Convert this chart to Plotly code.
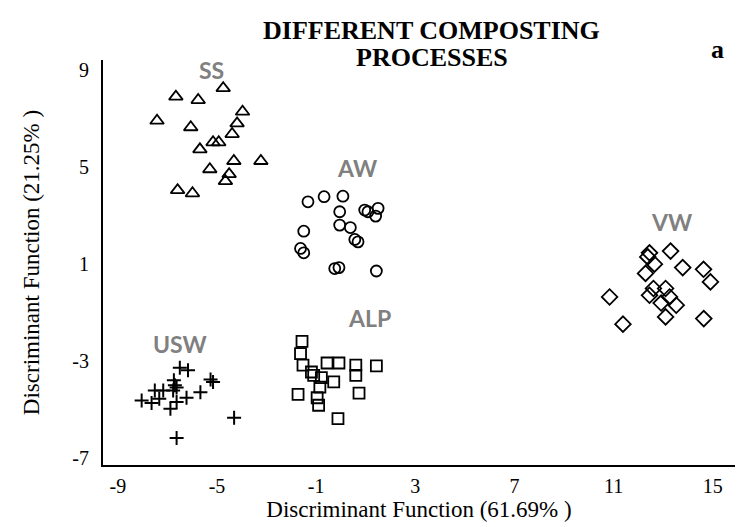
import plotly.graph_objects as go

# Discriminant scores (function 1, function 2) per composting process
ss_x = [-4.75, -6.66, -5.76, -3.97, -7.42, -4.19, -6.06, -4.39, -5.16, -4.93,
        -5.69, -4.32, -3.23, -5.29, -4.51, -4.66, -6.59, -5.99]
ss_y = [8.25, 7.90, 7.76, 7.28, 6.91, 6.80, 6.64, 6.36, 6.02, 6.02,
        5.73, 5.25, 5.25, 4.91, 4.71, 4.42, 4.05, 3.92]

aw_x = [-1.33, -0.68, 0.08, -0.05, 0.96, 1.09, 1.50, 1.40, -0.05, 0.38,
        -1.50, 0.56, 0.69, -1.63, -1.50, -0.25, -0.08, 1.43]
aw_y = [3.57, 3.78, 3.80, 3.16, 3.23, 3.16, 3.30, 2.98, 2.61, 2.51,
        2.36, 2.02, 1.92, 1.65, 1.47, 0.82, 0.86, 0.72]

vw_x = [12.45, 12.38, 13.30, 12.65, 13.79, 14.63, 12.29, 14.91, 10.84, 12.61,
        13.10, 12.45, 13.26, 12.92, 13.53, 11.38, 13.10, 14.64]
vw_y = [1.47, 1.30, 1.54, 1.00, 0.86, 0.79, 0.62, 0.27, -0.35, 0.00,
        0.00, -0.28, -0.35, -0.60, -0.69, -1.47, -1.17, -1.24]

usw_x = [-6.50, -6.17, -6.74, -5.26, -5.16, -6.70, -6.63, -7.51, -7.17, -6.77,
         -5.67, -8.04, -7.64, -7.33, -6.23, -6.63, -6.88, -4.31, -6.63]
usw_y = [-3.26, -3.37, -3.78, -3.75, -3.85, -3.99, -4.08, -4.20, -4.20, -4.20,
         -4.27, -4.61, -4.72, -4.54, -4.50, -4.68, -4.95, -5.32, -6.16]

alp_x = [-1.57, -1.63, -1.53, -1.19, -1.10, -0.56, -0.08, 0.60, 0.60, 1.43,
         -0.79, -0.29, -0.85, -1.73, 0.73, -0.96, -0.90, -0.12]
alp_y = [-2.18, -2.68, -3.16, -3.44, -3.58, -3.07, -3.07, -3.16, -3.58, -3.19,
         -3.67, -3.85, -4.06, -4.36, -4.31, -4.50, -4.81, -5.36]

group_names = ["SS", "AW", "VW", "USW", "ALP"]
label_x = [-5.21, 0.64, 13.34, -6.50, 1.16]
label_y = [9.00, 4.96, 2.73, -2.30, -1.23]

x_ticks = [-9, -5, -1, 3, 7, 11, 15]
y_ticks = [-7, -3, 1, 5, 9]

title_lines = ["DIFFERENT COMPOSTING", "PROCESSES"]

serif = "Liberation Serif, Times New Roman, serif"

fig = go.Figure()

def add_group(xs, ys, symbol, size, width):
    fig.add_trace(go.Scatter(
        x=xs, y=ys, mode="markers", showlegend=False,
        marker=dict(symbol=symbol, size=size, color="black",
                    line=dict(color="black", width=width)),
    ))

add_group(ss_x, ss_y, "triangle-up-open", 12, 1.8)
add_group(aw_x, aw_y, "circle-open", 11, 1.8)
add_group(vw_x, vw_y, "diamond-open", 12, 1.8)
add_group(usw_x, usw_y, "cross-thin", 10, 2)
add_group(alp_x, alp_y, "square-open", 11, 1.8)

for name, lx, ly in zip(group_names, label_x, label_y):
    fig.add_annotation(x=lx, y=ly, text=f"<b>{name}</b>", showarrow=False,
                       font=dict(family="Lato, Open Sans, sans-serif",
                                 size=23, color="#808080"))

# Two-line title, each line placed separately for tighter spacing
for line, ty in zip(title_lines, [1.074, 1.005]):
    fig.add_annotation(xref="paper", yref="paper", x=0.52, y=ty,
                       text=f"<b>{line}</b>", showarrow=False,
                       yanchor="middle",
                       font=dict(family=serif, size=26, color="black"))
fig.add_annotation(xref="paper", yref="paper", x=0.985, y=1.025,
                   text="<b>a</b>", showarrow=False, yanchor="middle",
                   font=dict(family=serif, size=26, color="black"))

fig.update_xaxes(
    range=[-9.6, 15.9], tickvals=x_ticks, ticktext=[str(v) for v in x_ticks],
    showgrid=False, zeroline=False, showline=True, linecolor="black",
    linewidth=2, ticks="", ticklabelstandoff=2,
    tickfont=dict(family=serif, size=20, color="black"),
    title=dict(text="Discriminant Function (61.69% )", standoff=2,
               font=dict(family=serif, size=23, color="black")),
)
fig.update_yaxes(
    range=[-7.27, 9.41], tickvals=y_ticks, ticktext=[str(v) for v in y_ticks],
    showgrid=False, zeroline=False, showline=True, linecolor="black",
    linewidth=2, ticks="", ticklabelstandoff=8,
    tickfont=dict(family=serif, size=20, color="black"),
    title=dict(text="Discriminant Function (21.25% )", standoff=26,
               font=dict(family=serif, size=23, color="black")),
)

fig.update_layout(
    width=739, height=527,
    margin=dict(l=103, r=4, t=60, b=62),
    plot_bgcolor="white", paper_bgcolor="white",
)

fig.write_html("out.html")
